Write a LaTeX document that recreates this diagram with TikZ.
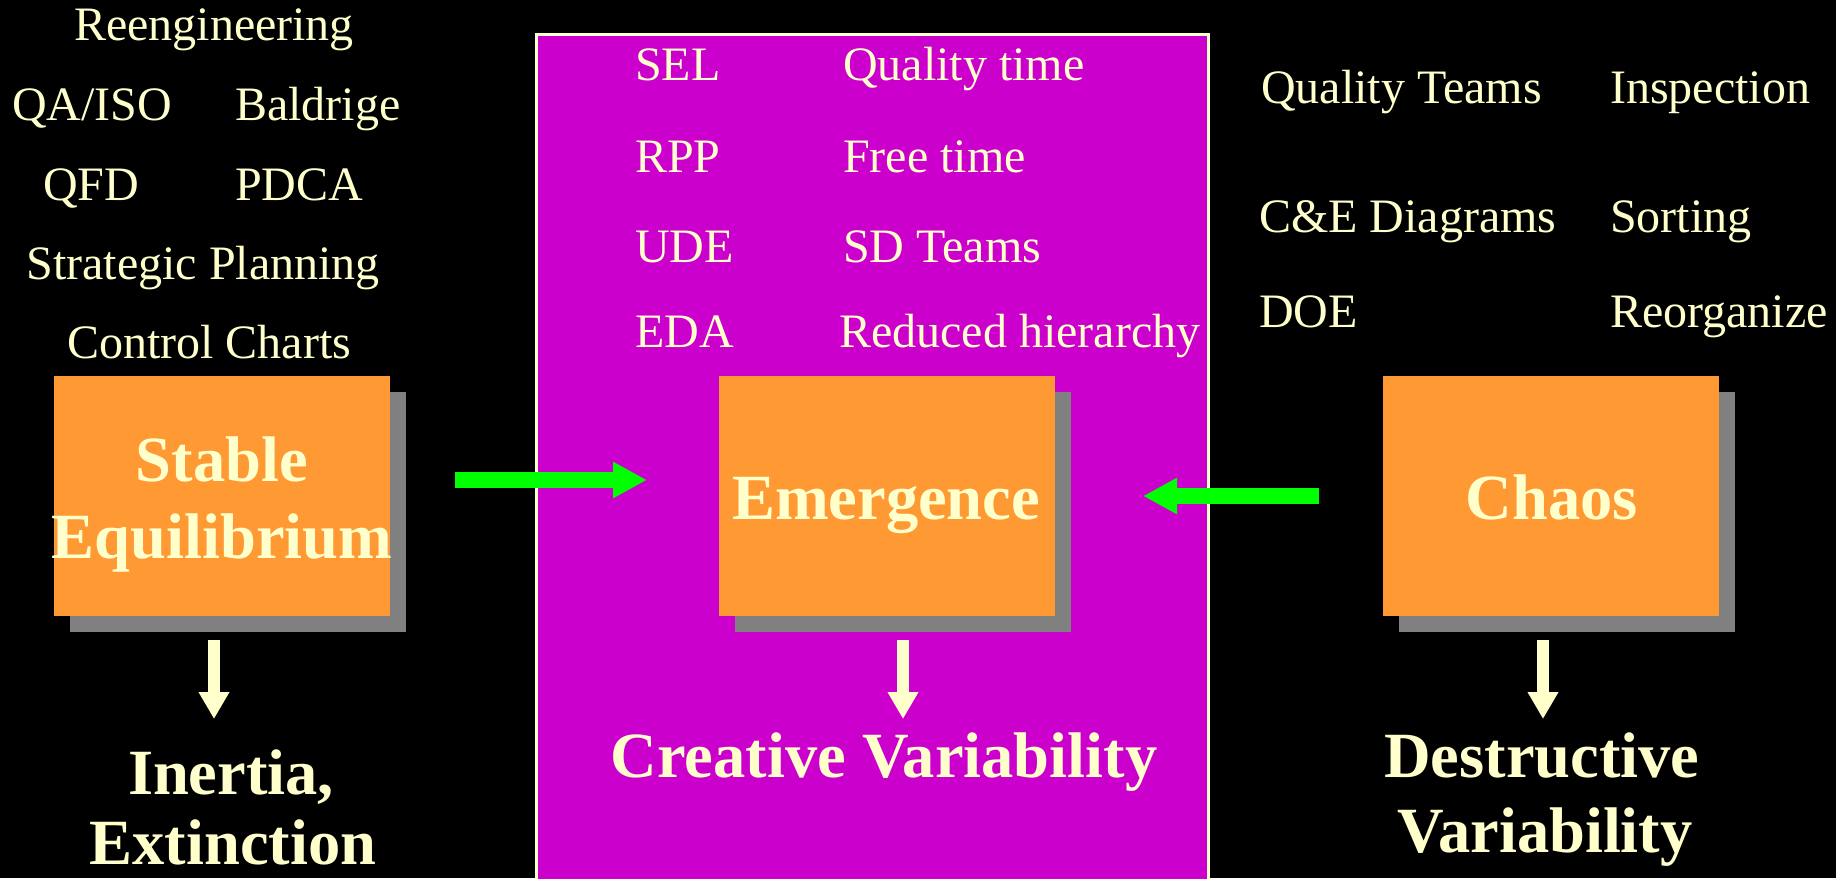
\documentclass[tikz,border=0pt]{standalone}
\usepackage{fontspec}
\setmainfont{Liberation Serif}
\usetikzlibrary{arrows.meta,shadows}
\definecolor{cream}{HTML}{FFFFCC}
\definecolor{panelmagenta}{HTML}{CC00CC}
\definecolor{boxorange}{HTML}{FF9933}
\definecolor{shadowgray}{HTML}{808080}
\definecolor{arrowgreen}{HTML}{00FF00}

\begin{document}
\begin{tikzpicture}[x=1pt,y=-1pt,
  item/.style={text=cream, inner sep=0pt, font=\fontsize{48}{58}\selectfont},
  heading/.style={text=cream, inner sep=0pt, font=\fontsize{64.5}{76}\selectfont\bfseries},
  statebox/.style={fill=boxorange, minimum width=336pt, minimum height=240pt, inner sep=0pt,
    general shadow={fill=shadowgray, shadow xshift=16pt, shadow yshift=-16pt}},
  push/.style={draw=arrowgreen, line width=16pt, -{Triangle[length=34pt,width=34pt]}},
  leads/.style={draw=cream, line width=12pt, -{Triangle[length=27pt,width=29pt]}},
]
% page and background
\useasboundingbox (0,0) rectangle (1836,878);
\clip (0,0) rectangle (1836,878);
\fill[black] (0,0) rectangle (1836,878);

% central magenta panel
\node[fill=panelmagenta, draw=cream, line width=2.5pt, inner sep=0pt,
      minimum width=672pt, minimum height=870pt, anchor=north west] (panel) at (535,33) {};

% left column of methods
\node[item, anchor=base] (reeng) at (214,40) {Reengineering};
\node[item, anchor=base west] (qaiso) at (12,120) {QA/ISO};
\node[item, anchor=base west] (baldrige) at (235,120) {Baldrige};
\node[item, anchor=base west] (qfd) at (43,200) {QFD};
\node[item, anchor=base west] (pdca) at (235,200) {PDCA};
\node[item, anchor=base] (strat) at (203,279) {Strategic Planning};
\node[item, anchor=base] (ctrl) at (209,358) {Control Charts};

% methods inside the panel
\node[item, anchor=base west] (sel) at (635,80) {SEL};
\node[item, anchor=base west] (qtime) at (843,80) {Quality time};
\node[item, anchor=base west] (rpp) at (635,172) {RPP};
\node[item, anchor=base west] (ftime) at (843,172) {Free time};
\node[item, anchor=base west] (ude) at (635,262) {UDE};
\node[item, anchor=base west] (sdteams) at (843,262) {SD Teams};
\node[item, anchor=base west] (eda) at (635,347) {EDA};
\node[item, anchor=base west] (reduced) at (839,347) {Reduced hierarchy};

% right column of methods
\node[item, anchor=base west] (qteams) at (1261,103) {Quality Teams};
\node[item, anchor=base west] (inspect) at (1610,103) {Inspection};
\node[item, anchor=base west] (ce) at (1259,232) {C\&E Diagrams};
\node[item, anchor=base west] (sorting) at (1610,232) {Sorting};
\node[item, anchor=base west] (doe) at (1259,327) {DOE};
\node[item, anchor=base west] (reorg) at (1610,327) {Reorganize};

% the three states
\node[statebox] (stable) at (222,496) {};
\node[statebox] (emerge) at (886.5,496) {};
\node[statebox] (chaos) at (1551,496) {};
\node[heading, anchor=base] (stable-a) at (222,481) {Stable};
\node[heading, anchor=base] (stable-b) at (222,558) {Equilibrium};
\node[heading, anchor=base] (emerge-t) at (886,519) {Emergence};
\node[heading, anchor=base] (chaos-t) at (1552,519) {Chaos};

% green arrows pushing towards emergence
\coordinate (gl-tail) at (455,480);
\coordinate (gl-tip) at (647,480);
\coordinate (gr-tail) at (1319,496);
\coordinate (gr-tip) at (1143,496);
\draw[push] (gl-tail) -- (gl-tip);
\draw[push] (gr-tail) -- (gr-tip);

% outcomes
\coordinate (dl-top) at (214,640);
\coordinate (dl-tip) at (214,719);
\coordinate (dm-top) at (903,640);
\coordinate (dm-tip) at (903,719);
\coordinate (dr-top) at (1543,640);
\coordinate (dr-tip) at (1543,719);
\draw[leads] (dl-top) -- (dl-tip);
\draw[leads] (dm-top) -- (dm-tip);
\draw[leads] (dr-top) -- (dr-tip);

\node[heading, anchor=base] (inertia) at (231,794) {Inertia,};
\node[heading, anchor=base] (extinct) at (233,864) {Extinction};
\node[heading, anchor=base] (creative) at (884,777) {Creative Variability};
\node[heading, anchor=base] (destr-a) at (1542,777) {Destructive};
\node[heading, anchor=base] (destr-b) at (1545,852) {Variability};
\end{tikzpicture}
\end{document}
